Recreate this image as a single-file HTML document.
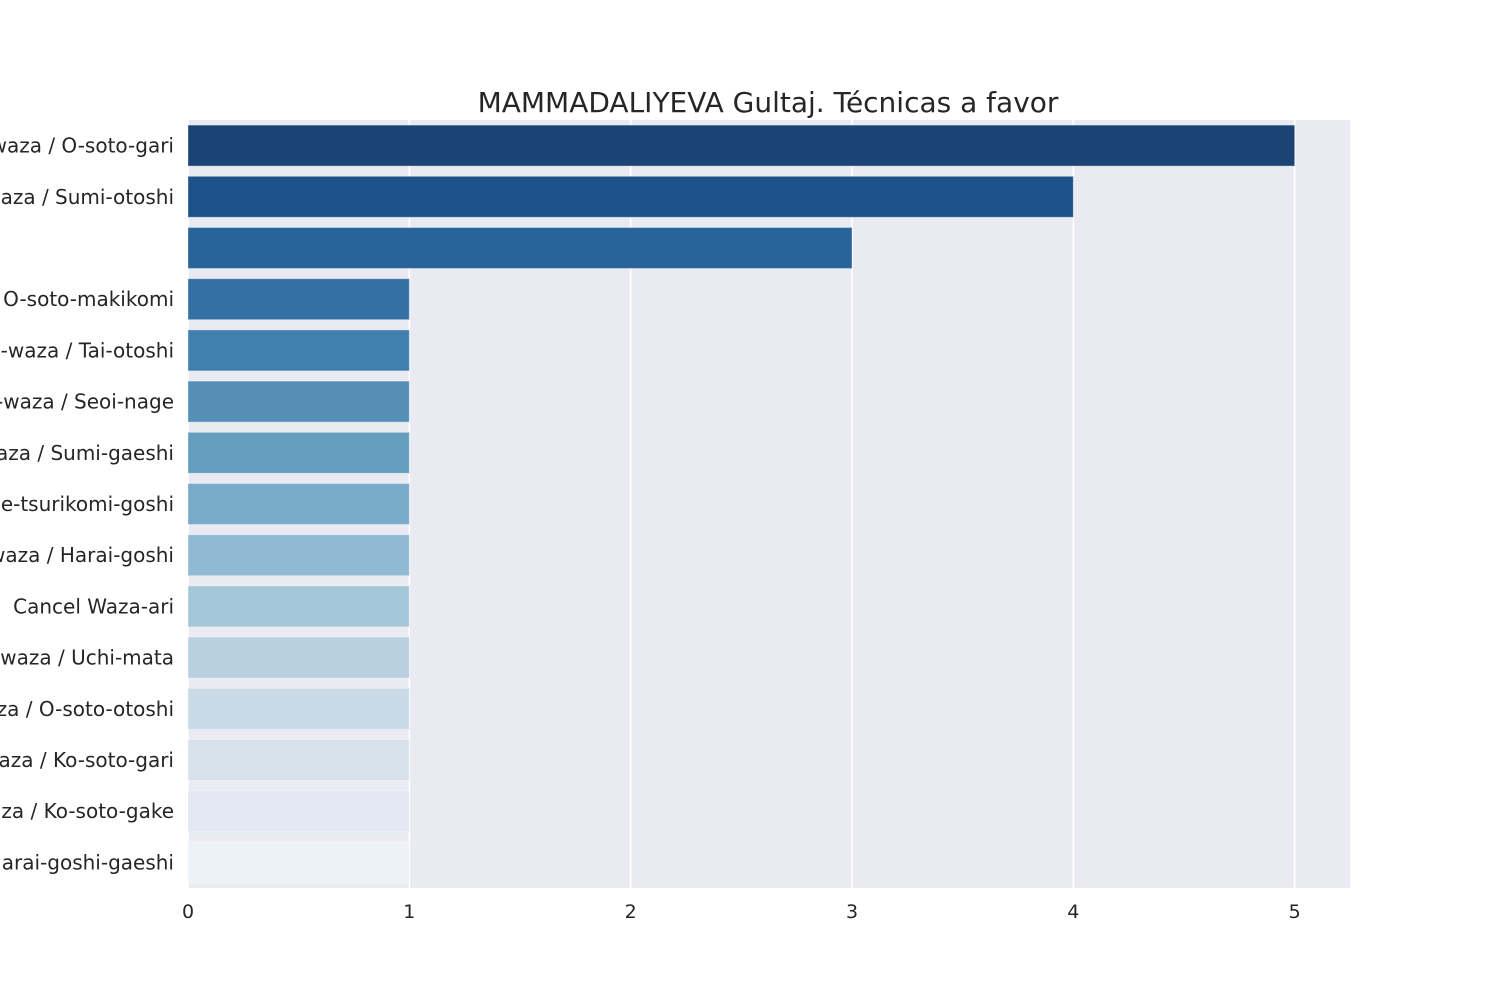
<!DOCTYPE html>
<html><head><meta charset="utf-8"><style>
body{margin:0;background:#fff}
svg text{font-family:"DejaVu Sans","Liberation Sans",sans-serif;fill:#262626}
</style></head><body>
<svg width="1500" height="1000" id="chart">
<text x="768" y="112" font-size="28" text-anchor="middle">MAMMADALIYEVA Gultaj. Técnicas a favor</text>
</svg>
<script>
const categories=["Ashi-waza / O-soto-gari","Te-waza / Sumi-otoshi","","Ma-sutemi-waza / O-soto-makikomi","Te-waza / Tai-otoshi","Te-waza / Seoi-nage","Ma-sutemi-waza / Sumi-gaeshi","Koshi-waza / Sode-tsurikomi-goshi","Koshi-waza / Harai-goshi","Cancel Waza-ari","Ashi-waza / Uchi-mata","Ashi-waza / O-soto-otoshi","Ashi-waza / Ko-soto-gari","Ashi-waza / Ko-soto-gake","Ashi-waza / Harai-goshi-gaeshi"];
const values=[5,4,3,1,1,1,1,1,1,1,1,1,1,1,1];
const colors=["#1a4473","#1c518a","#286399","#3470a3","#417fae","#548fb8","#659dbe","#79aac8","#8fbad2","#a5c8d8","#b8d0e0","#c9d9e6","#d7e2ed","#e2e9f2","#edf2f9"];
const xticks=[0,1,2,3,4,5];
const svg=document.getElementById('chart');
const NS='http://www.w3.org/2000/svg';
const L=188,R=1350,T=120,B=888,XMAX=5.25;
const xs=v=>L+v/XMAX*(R-L);
const band=(B-T)/categories.length;
function mk(t,a){const e=document.createElementNS(NS,t);for(const k in a)e.setAttribute(k,a[k]);svg.appendChild(e);return e;}
const bg=mk('rect',{x:L,y:T,width:R-L,height:B-T,fill:'#eaeaf2'});


xticks.forEach(t=>{
 const g=mk('line',{x1:xs(t),x2:xs(t),y1:T,y2:B,stroke:'#fff','stroke-width':1.5});
 
 
 const tx=mk('text',{x:xs(t),y:918,'font-size':19,'text-anchor':'middle'});
 tx.textContent=t;
 
 
});
categories.forEach((c,i)=>{
 const yc=T+band*(i+0.5),h=band*0.8;
 const r=mk('rect',{x:L,y:yc-h/2,width:xs(values[i])-L,height:h,fill:colors[i],stroke:'rgba(255,255,255,0.35)','stroke-width':1});
 
 
 const tx=mk('text',{x:174,y:yc+7,'font-size':20,'text-anchor':'end'});
 tx.textContent=c;
 
 
});
</script>
</body></html>
